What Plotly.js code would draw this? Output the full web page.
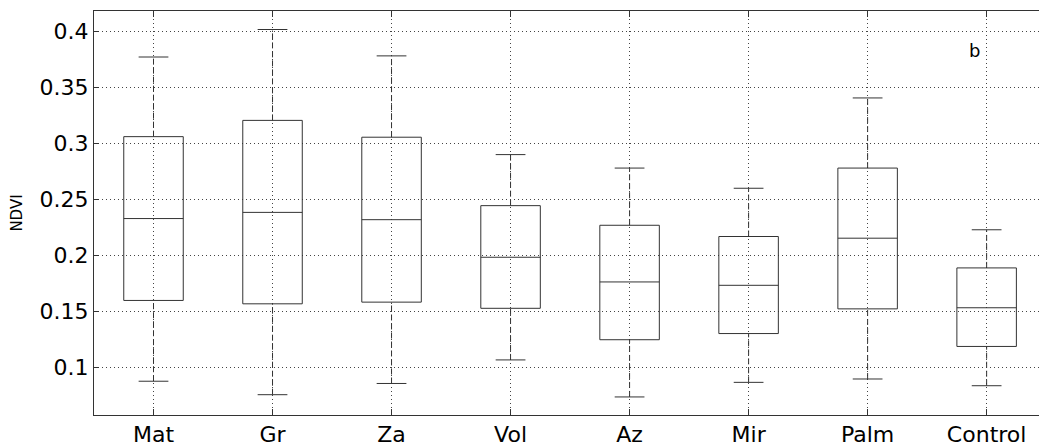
<!DOCTYPE html>
<html>
<head>
<meta charset="utf-8">
<script src="https://cdn.plot.ly/plotly-3.0.1.min.js"></script>
<style>html,body{margin:0;padding:0;background:#fff;}#chart{width:1039px;height:442px;}</style>
</head>
<body>
<div id="chart"></div>
<script>
// ---- data ----
var categories    = ['Mat', 'Gr', 'Za', 'Vol', 'Az', 'Mir', 'Palm', 'Control'];
var lowerWhisker  = [0.088, 0.076, 0.086, 0.107, 0.074, 0.087, 0.090, 0.084];
var q1            = [0.160, 0.157, 0.1585, 0.153, 0.125, 0.1305, 0.1525, 0.119];
var medians       = [0.233, 0.2385, 0.232, 0.1985, 0.1765, 0.1735, 0.2155, 0.1535];
var q3            = [0.306, 0.3205, 0.3055, 0.2445, 0.227, 0.217, 0.278, 0.189];
var upperWhisker  = [0.377, 0.4015, 0.378, 0.290, 0.278, 0.260, 0.3405, 0.223];
var yTickVals     = [0.1, 0.15, 0.2, 0.25, 0.3, 0.35, 0.4];
var yTickText     = ['0.1', '0.15', '0.2', '0.25', '0.3', '0.35', '0.4'];
var panelLabel    = 'b';

var positions = categories.map(function (c, i) { return i + 1; });
var lineColor = '#333333';
var capHalf = 0.125;

// boxes + medians (whiskers drawn separately as dashed lines)
var boxTrace = {
  type: 'box',
  x: positions,
  q1: q1,
  median: medians,
  q3: q3,
  lowerfence: q1,
  upperfence: q3,
  width: 0.5,
  whiskerwidth: 0,
  boxpoints: false,
  fillcolor: 'rgba(0,0,0,0)',
  line: { color: lineColor, width: 1 },
  hoverinfo: 'skip',
  showlegend: false
};

// whiskers (dashed)
var wx = [], wy = [];
positions.forEach(function (p, i) {
  wx.push(p, p, null, p, p, null);
  wy.push(q3[i], upperWhisker[i], null, lowerWhisker[i], q1[i], null);
});
var whiskerTrace = {
  type: 'scatter', mode: 'lines', x: wx, y: wy,
  line: { color: lineColor, width: 1, dash: '6px,3px' },
  hoverinfo: 'skip', showlegend: false
};

// caps
var cx = [], cy = [];
positions.forEach(function (p, i) {
  cx.push(p - capHalf, p + capHalf, null, p - capHalf, p + capHalf, null);
  cy.push(upperWhisker[i], upperWhisker[i], null, lowerWhisker[i], lowerWhisker[i], null);
});
var capTrace = {
  type: 'scatter', mode: 'lines', x: cx, y: cy,
  line: { color: lineColor, width: 1 },
  hoverinfo: 'skip', showlegend: false
};

var tickFont = { family: 'DejaVu Sans, Arial, sans-serif', size: 22, color: '#000' };

var layout = {
  width: 1039,
  height: 442,
  margin: { l: 94, r: 0, t: 11, b: 27 },
  paper_bgcolor: '#ffffff',
  plot_bgcolor: '#ffffff',
  showlegend: false,
  xaxis: {
    range: [0.5, 8.44],
    tickmode: 'array',
    tickvals: positions,
    ticktext: categories,
    tickfont: tickFont,
    ticks: 'inside',
    ticklen: 6,
    tickcolor: lineColor,
    showline: true,
    linecolor: lineColor,
    linewidth: 1,
    mirror: 'ticks',
    showgrid: true,
    gridcolor: '#444444',
    gridwidth: 1,
    griddash: '1px,3px',
    zeroline: false,
    fixedrange: true
  },
  yaxis: {
    range: [0.0579, 0.418],
    tickmode: 'array',
    tickvals: yTickVals,
    ticktext: yTickText,
    tickfont: tickFont,
    ticks: 'inside',
    ticklen: 5,
    tickcolor: lineColor,
    showline: true,
    linecolor: lineColor,
    linewidth: 1,
    mirror: false,
    showgrid: true,
    gridcolor: '#444444',
    gridwidth: 1,
    griddash: '1px,3px',
    zeroline: false,
    title: { text: 'NDVI', font: { family: 'DejaVu Sans, Arial, sans-serif', size: 15, color: '#000' }, standoff: 13 },
    fixedrange: true
  },
  annotations: [{
    text: panelLabel,
    x: 7.9, y: 0.383,
    xref: 'x', yref: 'y',
    showarrow: false,
    font: { family: 'DejaVu Sans, Arial, sans-serif', size: 18, color: '#000' }
  }]
};

Plotly.newPlot('chart', [boxTrace, whiskerTrace, capTrace], layout, { displayModeBar: false, staticPlot: true });
</script>
</body>
</html>
